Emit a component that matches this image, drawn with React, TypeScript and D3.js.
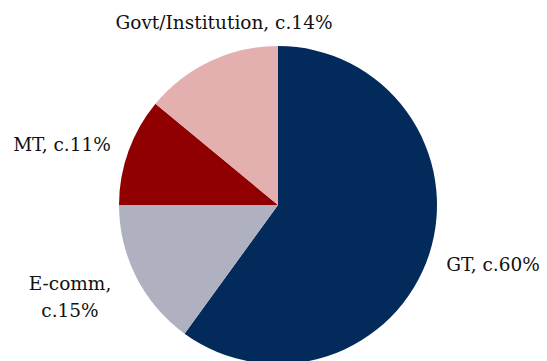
import React from "react";
import * as d3 from "d3";

const categories = ["GT", "E-comm", "MT", "Govt/Institution"];
const values = [60, 15, 11, 14];
const labelLines = [["GT, c.60%"], ["E-comm,", "c.15%"], ["MT, c.11%"], ["Govt/Institution, c.14%"]];
const colors = ["#022B5B", "#AFB1C1", "#900000", "#E3AFAF"];

export default function App() {
  const W = 547, H = 361;
  const cx = 278, cy = 205, r = 159;
  const pie = d3.pie<number>().sort(null).value((d) => d)(values);
  const arc = d3.arc<d3.PieArcDatum<number>>().innerRadius(0).outerRadius(r);
  const labelPos: [number, number][] = [
    [493, 271],
    [70, 290],
    [62, 151],
    [224, 29],
  ];
  return (
    <svg width={W} height={H} style={{ position: "absolute", left: 0, top: 0 }}>
      <g transform={`translate(${cx},${cy})`}>
        {pie.map((p, i) => (
          <path key={categories[i]} d={arc(p) || ""} fill={colors[i]} />
        ))}
      </g>
      {labelLines.map((lines, i) => (
        <text key={i} x={labelPos[i][0]} y={labelPos[i][1]} textAnchor="middle"
          fontFamily="'DejaVu Serif', serif" fontSize={18.5} fill="#111">
          {lines.map((l, j) => (
            <tspan key={j} x={labelPos[i][0]} dy={j === 0 ? 0 : 27}>{l}</tspan>
          ))}
        </text>
      ))}
    </svg>
  );
}
